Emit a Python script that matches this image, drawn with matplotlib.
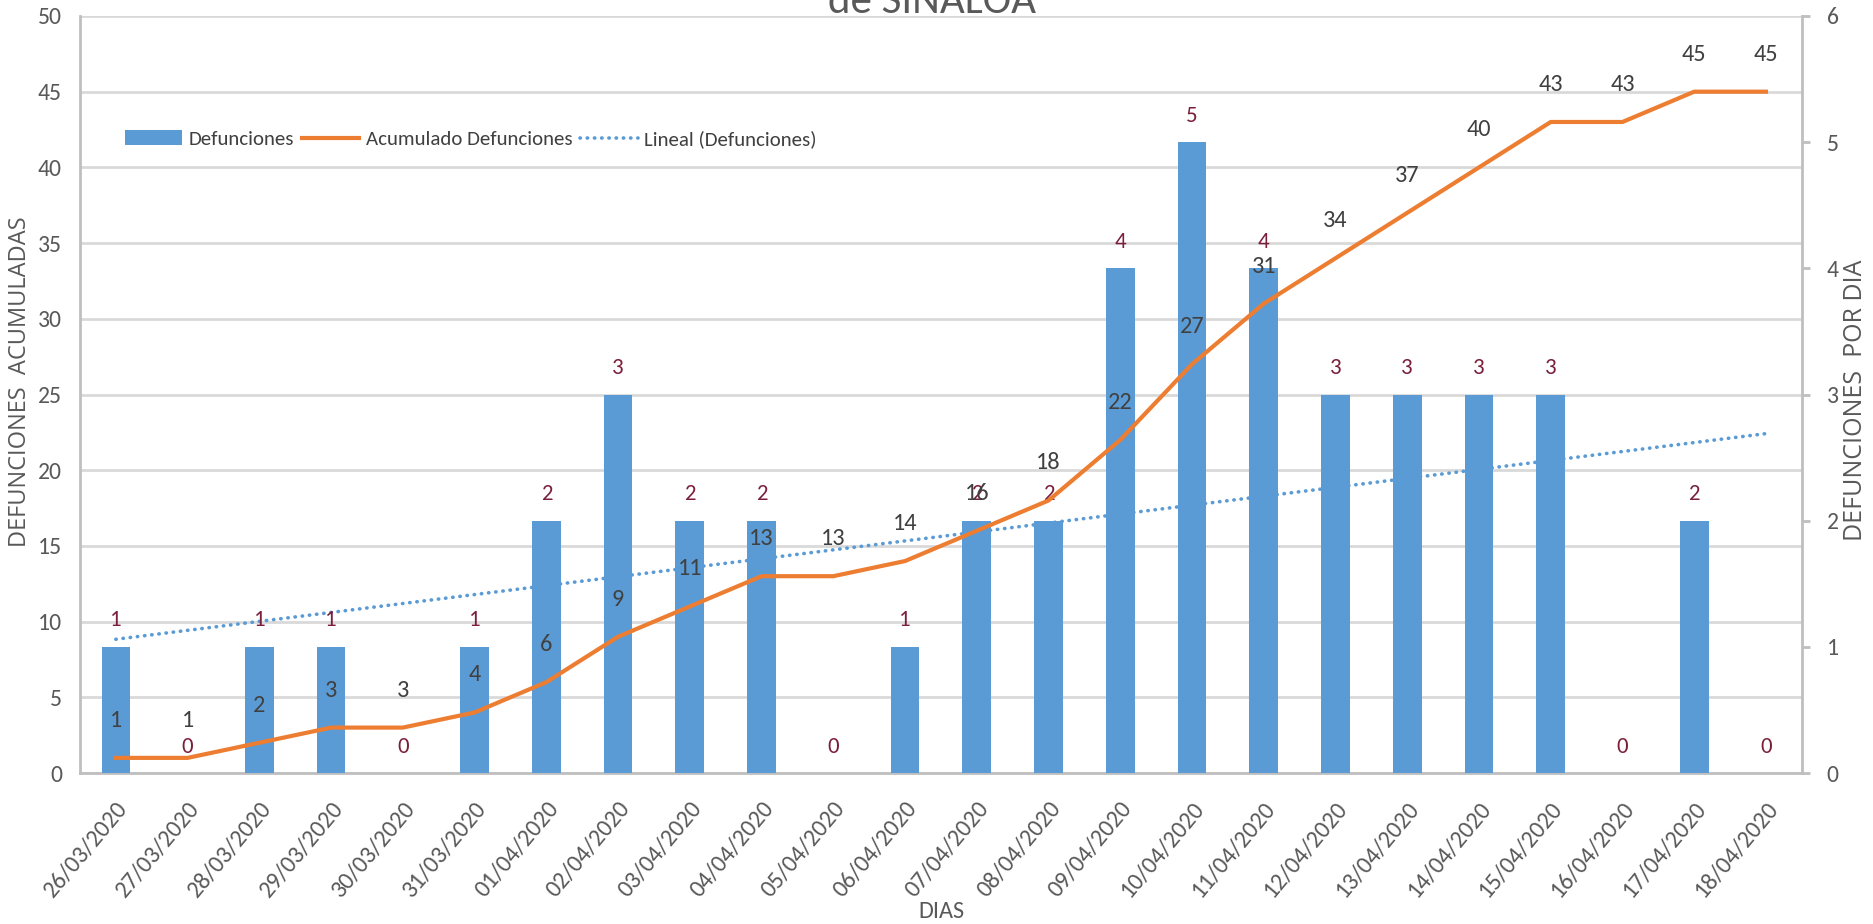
import matplotlib
matplotlib.use('Agg')
import matplotlib.pyplot as plt
import numpy as np

dias = ['26/03/2020', '27/03/2020', '28/03/2020', '29/03/2020', '30/03/2020', '31/03/2020',
        '01/04/2020', '02/04/2020', '03/04/2020', '04/04/2020', '05/04/2020', '06/04/2020',
        '07/04/2020', '08/04/2020', '09/04/2020', '10/04/2020', '11/04/2020', '12/04/2020',
        '13/04/2020', '14/04/2020', '15/04/2020', '16/04/2020', '17/04/2020', '18/04/2020']
defunciones = [1, 0, 1, 1, 0, 1, 2, 3, 2, 2, 0, 1, 2, 2, 4, 5, 4, 3, 3, 3, 3, 0, 2, 0]
acumulado = [1, 1, 2, 3, 3, 4, 6, 9, 11, 13, 13, 14, 16, 18, 22, 27, 31, 34, 37, 40, 43, 43, 45, 45]

azul = '#5B9BD5'
naranja = '#ED7D31'
granate = '#7B1F3B'
gris = '#404040'
gris_txt = '#595959'

plt.rcParams['font.family'] = ['Carlito', 'Liberation Sans', 'DejaVu Sans']

fig = plt.figure(figsize=(18.73, 9.24), dpi=100)
fig.subplots_adjust(left=0.0427, right=0.962, top=0.9827, bottom=0.1634)
ax = fig.add_subplot(111)
ax2 = ax.twinx()
ax3 = ax2.twinx()
ax2.yaxis.tick_right()

x = np.arange(len(dias))

# eje izquierdo: rejilla y escala del acumulado
ax.set_xlim(-0.5, len(dias) - 0.5)
ax.set_ylim(0, 50)
ax.set_yticks(np.arange(0, 51, 5))
ax.yaxis.grid(True, color='#D9D9D9', linewidth=2)
ax.set_axisbelow(True)
ax.tick_params(axis='y', length=0, pad=13, labelsize=17, labelcolor=gris_txt)
ax.set_xticks(x)
ax.set_xticklabels(dias, rotation=50, ha='right', va='top', rotation_mode='anchor',
                   fontsize=17.5, color=gris_txt)
ax.tick_params(axis='x', length=0, pad=18)
for s in ['top', 'right']:
    ax.spines[s].set_visible(False)
for s in ['left', 'bottom']:
    ax.spines[s].set_color('#BFBFBF')
    ax.spines[s].set_linewidth(2)

# eje derecho: defunciones por dia + tendencia lineal
coef = np.polyfit(x, defunciones, 1)
trend = np.polyval(coef, x)
ax2.plot(x, trend, color=azul, linestyle=(0, (0.1, 1.9)), linewidth=2.6,
         dash_capstyle='round', zorder=1, label='Lineal (Defunciones)')
bars = ax2.bar(x, defunciones, width=0.4, color=azul, zorder=2, label='Defunciones')
ax2.set_ylim(0, 6)
ax2.set_yticks(range(0, 7))
ax2.tick_params(axis='y', length=6, width=2, color='#BFBFBF', pad=12, labelsize=17,
                labelcolor=gris_txt)
for s in ['top', 'left', 'bottom']:
    ax2.spines[s].set_visible(False)
ax2.spines['right'].set_color('#BFBFBF')
ax2.spines['right'].set_linewidth(2)
for xi, v in zip(x, defunciones):
    ax2.annotate(str(v), (xi, v), xytext=(0, 19), textcoords='offset points',
                 ha='center', va='center', fontsize=16.5, color=granate, zorder=5)

# capa superior: linea del acumulado con escala izquierda
ax3.set_ylim(0, 50)
ax3.axis('off')
linea, = ax3.plot(x, acumulado, color=naranja, linewidth=3, zorder=3,
                  label='Acumulado Defunciones')
for xi, v in zip(x, acumulado):
    ax3.annotate(str(v), (xi, v), xytext=(0, 27), textcoords='offset points',
                 ha='center', va='center', fontsize=17.5, color=gris)

handles = [bars, linea, ax2.lines[0]]
fig.legend(handles, [h.get_label() for h in handles], loc='center left',
           bbox_to_anchor=(125 / 1873, 1 - 139 / 924), ncol=3, frameon=False,
           fontsize=15, handlelength=2.74, handletextpad=0.3, columnspacing=0.4,
           borderpad=0, borderaxespad=0, labelcolor=gris)

fig.text(932 / 1873, 1 - 13 / 924, 'de SINALOA', ha='center', va='baseline',
         fontsize=31, color=gris_txt)
fig.text(941 / 1873, 12 / 924, 'DIAS', ha='center', va='center', fontsize=17.5,
         color=gris_txt)
fig.text(20 / 1873, 1 - 382 / 924, 'DEFUNCIONES  ACUMULADAS', rotation=90, ha='center',
         va='center', fontsize=17, color=gris_txt, family=['Open Sans', 'DejaVu Sans'])
fig.text(1855 / 1873, 1 - 400 / 924, 'DEFUNCIONES  POR DIA', rotation=90, ha='center',
         va='center', fontsize=18, color=gris_txt, family=['Open Sans', 'DejaVu Sans'])

fig.savefig('out.png', dpi=100)
